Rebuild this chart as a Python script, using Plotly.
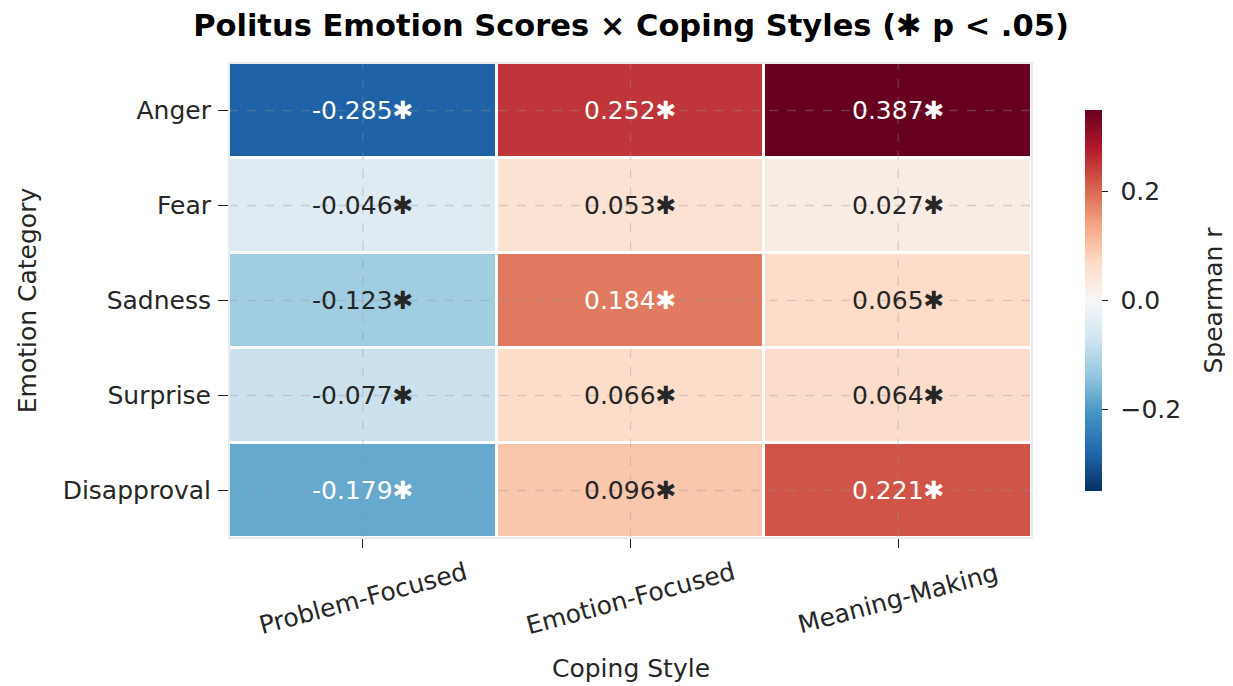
import plotly.graph_objects as go
import plotly.colors as pc

emotions = ["Anger", "Fear", "Sadness", "Surprise", "Disapproval"]
coping = ["Problem-Focused", "Emotion-Focused", "Meaning-Making"]
problem_focused = [-0.285, -0.046, -0.123, -0.077, -0.179]
emotion_focused = [0.252, 0.053, 0.184, 0.066, 0.096]
meaning_making = [0.387, 0.027, 0.065, 0.064, 0.221]
significant = [[True, True, True]] * 5
cbar_ticks = [-0.2, 0.0, 0.2]
cbar_ticktext = ["\u00a0\u22120.2", "\u00a00.0", "\u00a00.2"]

z = [[problem_focused[i], emotion_focused[i], meaning_making[i]] for i in range(len(emotions))]
FONT = "DejaVu Sans"
FS = 25
TXT = "#262626"

# page offset (body margin 8px)
OFF = 8
L, R, T, B = 229 - OFF, 1233 - 1032 + OFF, 63 - OFF, 686 - 538 + OFF
PH = 538 - 63
PW = 1032 - 229

fig = go.Figure()
fig.add_trace(go.Heatmap(
    z=z, x=coping, y=emotions,
    colorscale=pc.sequential.RdBu_r, zmin=-0.35, zmax=0.35,
    xgap=3, ygap=3,
    hoverinfo="skip",
    colorbar=dict(
        x=(1085 - 229) / PW, xanchor="left", xref="paper", xpad=0,
        y=0.5, yanchor="middle", ypad=0,
        thickness=17, len=381, lenmode="pixels",
        outlinewidth=0,
        tickvals=cbar_ticks, ticktext=cbar_ticktext,
        ticks="outside", ticklen=6, tickwidth=1.3, tickcolor="#222",
        tickfont=dict(family=FONT, size=FS, color=TXT),
    ),
))

annotations = []
for i, e in enumerate(emotions):
    for j, c in enumerate(coping):
        v = z[i][j]
        txt = f"{v:.3f}" + ("\u2731" if significant[i][j] else "")
        col = "white" if abs(v) > 0.15 else TXT
        annotations.append(dict(x=c, y=e, text=txt, showarrow=False,
                                font=dict(family=FONT, size=FS, color=col)))

# centered, rotated x tick labels
for c in coping:
    annotations.append(dict(x=c, xref="x", y=-(598 - 538) / PH, yref="paper",
                            text=c, showarrow=False, textangle=-15,
                            xanchor="center", yanchor="middle",
                            font=dict(family=FONT, size=FS, color=TXT)))
annotations.append(dict(x=0.5, xref="paper", y=-(668 - 538) / PH, yref="paper",
                        text="Coping Style", showarrow=False, xanchor="center", yanchor="middle",
                        font=dict(family=FONT, size=FS, color=TXT)))
# colorbar label
annotations.append(dict(x=(1213 - 229) / PW, xref="paper", y=0.5, yref="paper",
                        text="Spearman r", showarrow=False, textangle=-90,
                        xanchor="center", yanchor="middle",
                        font=dict(family=FONT, size=FS, color=TXT)))

shapes = []
for j in range(len(coping)):
    shapes.append(dict(type="line", xref="x", yref="paper", x0=j, x1=j, y0=0, y1=1,
                       line=dict(color="rgba(150,150,150,0.35)", width=1.3, dash="dash"), layer="above"))
for i in range(len(emotions)):
    shapes.append(dict(type="line", xref="paper", yref="y", x0=0, x1=1, y0=i, y1=i,
                       line=dict(color="rgba(150,150,150,0.35)", width=1.3, dash="dash"), layer="above"))
shapes.append(dict(type="rect", xref="paper", yref="paper", x0=0, x1=1, y0=0, y1=1,
                   line=dict(color="#ebebeb", width=2), layer="above"))

fig.update_layout(
    width=1233, height=686,
    margin=dict(l=L, r=R, t=T, b=B),
    paper_bgcolor="white", plot_bgcolor="white",
    title=dict(text="<b>Politus Emotion Scores \u00d7 Coping Styles (\u2731 p < .05)</b>",
               x=(631 - OFF) / 1233, xanchor="center", y=1 - (25 - OFF) / 686, yanchor="middle",
               font=dict(family=FONT, size=30.5, color="black")),
    annotations=annotations,
    shapes=shapes,
    font=dict(family=FONT, color=TXT),
)
fig.update_xaxes(
    showgrid=False, zeroline=False, ticks="outside", ticklen=9, tickwidth=1.3, tickcolor="#222",
    showticklabels=False,
)
fig.update_yaxes(
    autorange="reversed", showgrid=False, zeroline=False, ticks="outside", ticklen=10, tickwidth=1.3,
    tickcolor="#222", ticklabelstandoff=2,
    tickfont=dict(family=FONT, size=FS, color=TXT),
    title=dict(text="Emotion Category", font=dict(family=FONT, size=FS, color=TXT), standoff=18),
)

fig.write_html("out.html")
